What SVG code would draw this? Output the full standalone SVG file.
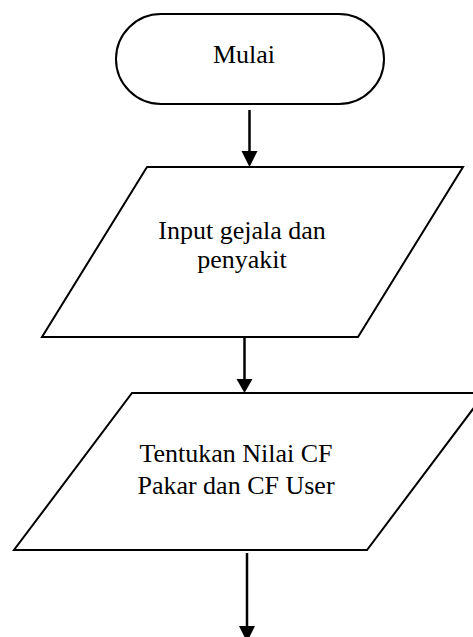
<svg xmlns="http://www.w3.org/2000/svg" width="473" height="637" viewBox="0 0 473 637">
<style>
.shape{fill:#fff;stroke:#000;stroke-width:2}
.conn{stroke:#000;stroke-width:2.5;fill:none}
.head{fill:#000}
text{font-family:"Liberation Serif","Times New Roman",serif;font-size:26px;fill:#000;text-anchor:middle}
</style>
<rect width="473" height="637" fill="#fff"/>
<g id="connectors">
<line class="conn" x1="249.5" y1="110" x2="249.5" y2="153"/>
<polygon class="head" points="241.5,151 257.5,151 249.5,167"/>
<line class="conn" x1="244.5" y1="337" x2="244.5" y2="381"/>
<polygon class="head" points="236.5,379 252.5,379 244.5,393"/>
<line class="conn" x1="247" y1="553" x2="247" y2="630"/>
<polygon class="head" points="239,626 255,626 247,642"/>
</g>
<g id="mulai">
<rect class="shape" x="116" y="14" width="268" height="90" rx="45" ry="45"/>
<text x="244" y="63">Mulai</text>
</g>
<g id="input">
<polygon class="shape" points="147,167 463,167 358,337 42,337"/>
<text x="242" y="239">Input gejala dan</text>
<text x="242" y="268">penyakit</text>
</g>
<g id="tentukan">
<polygon class="shape" points="132,393 485,393 367,550 14,550"/>
<text x="236" y="462">Tentukan Nilai CF</text>
<text x="236" y="494">Pakar dan CF User</text>
</g>
</svg>
